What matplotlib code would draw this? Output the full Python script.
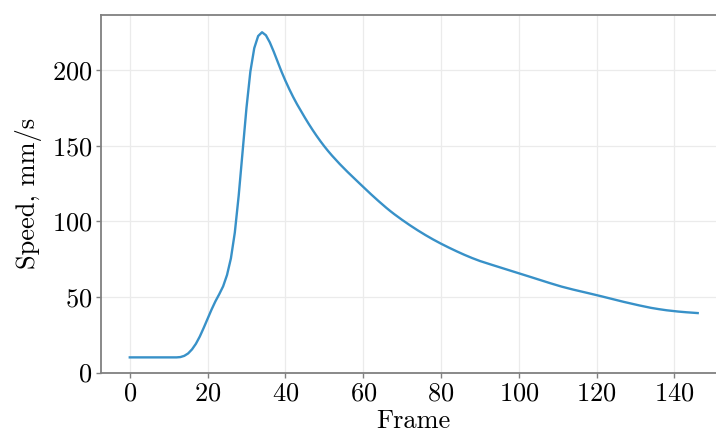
import numpy as np
import matplotlib
matplotlib.use("Agg")
import matplotlib.pyplot as plt

# speed per frame
frames = np.arange(0, 147)
speed = [
    10.0, 10.0, 10.0, 10.0, 10.0, 10.0, 10.0, 10.0, 10.0, 10.0,    # 0-9
    10.0, 10.0, 10.0, 10.2, 11.0, 12.6, 15.3, 19.0, 23.8, 29.5,    # 10-19
    35.5, 41.5, 47.0, 51.8, 57.0, 64.5, 75.5, 92.5, 117.0, 146.0,  # 20-29
    175.0, 199.0, 214.5, 222.5, 225.0, 223.0, 218.3, 212.2, 205.6, 199.0,  # 30-39
    193.0, 187.4, 182.2, 177.4, 173.0, 168.6, 164.4, 160.4, 156.6, 153.0,  # 40-49
    149.6, 146.4, 143.4, 140.55, 137.8, 135.15, 132.6, 130.1, 127.65, 125.2,  # 50-59
    122.75, 120.3, 117.9, 115.55, 113.25, 111.0, 108.8, 106.7, 104.7, 102.8,  # 60-69
    100.95, 99.15, 97.4, 95.7, 94.05, 92.45, 90.9, 89.4, 87.95, 86.55,  # 70-79
    85.2, 83.9, 82.63, 81.39, 80.18, 79.0, 77.85, 76.75, 75.7, 74.7,  # 80-89
    73.75, 72.9, 72.08, 71.27, 70.47, 69.67, 68.87, 68.07, 67.27, 66.47,  # 90-99
    65.67, 64.85, 64.03, 63.2, 62.37, 61.55, 60.73, 59.92, 59.12, 58.33,  # 100-109
    57.55, 56.8, 56.12, 55.46, 54.82, 54.2, 53.6, 53.0, 52.4, 51.8,  # 110-119
    51.2, 50.55, 49.9, 49.25, 48.6, 47.95, 47.3, 46.7, 46.1, 45.5,  # 120-129
    44.9, 44.35, 43.8, 43.25, 42.75, 42.3, 41.9, 41.5, 41.15, 40.85,  # 130-139
    40.55, 40.3, 40.05, 39.85, 39.65, 39.45, 39.3,                  # 140-146
]
x_ticks = [0, 20, 40, 60, 80, 100, 120, 140]
y_ticks = [0, 50, 100, 150, 200]

plt.rcParams['font.family'] = 'serif'
plt.rcParams['font.serif'] = ['cmr10']
plt.rcParams['mathtext.fontset'] = 'cm'
plt.rcParams['axes.formatter.use_mathtext'] = True

fig = plt.figure(figsize=(7.16, 4.34), dpi=100)
ax = fig.add_axes([0.1416, 0.1417, 1.0141 - 0.1416, 0.9661 - 0.1417])

ax.plot(frames, speed, color='#3891c8', lw=1.7)

ax.set_xlim(-7.3, 153.3)
ax.set_ylim(0, 236.6)
ax.set_xticks(x_ticks)
ax.set_yticks(y_ticks)
ax.grid(True, color='#ebebeb', lw=0.9)
ax.set_axisbelow(True)

for side in ['left', 'bottom', 'top', 'right']:
    ax.spines[side].set_color('#808080')
    ax.spines[side].set_linewidth(1.3)

ax.tick_params(axis='both', direction='out', length=3.5, width=1.0,
               color='#808080', labelsize=19, pad=3)
ax.set_xlabel('Frame', fontsize=19, labelpad=3)
ax.set_ylabel('Speed, mm/s', fontsize=19, labelpad=7)

plt.savefig('out.png', dpi=100)
